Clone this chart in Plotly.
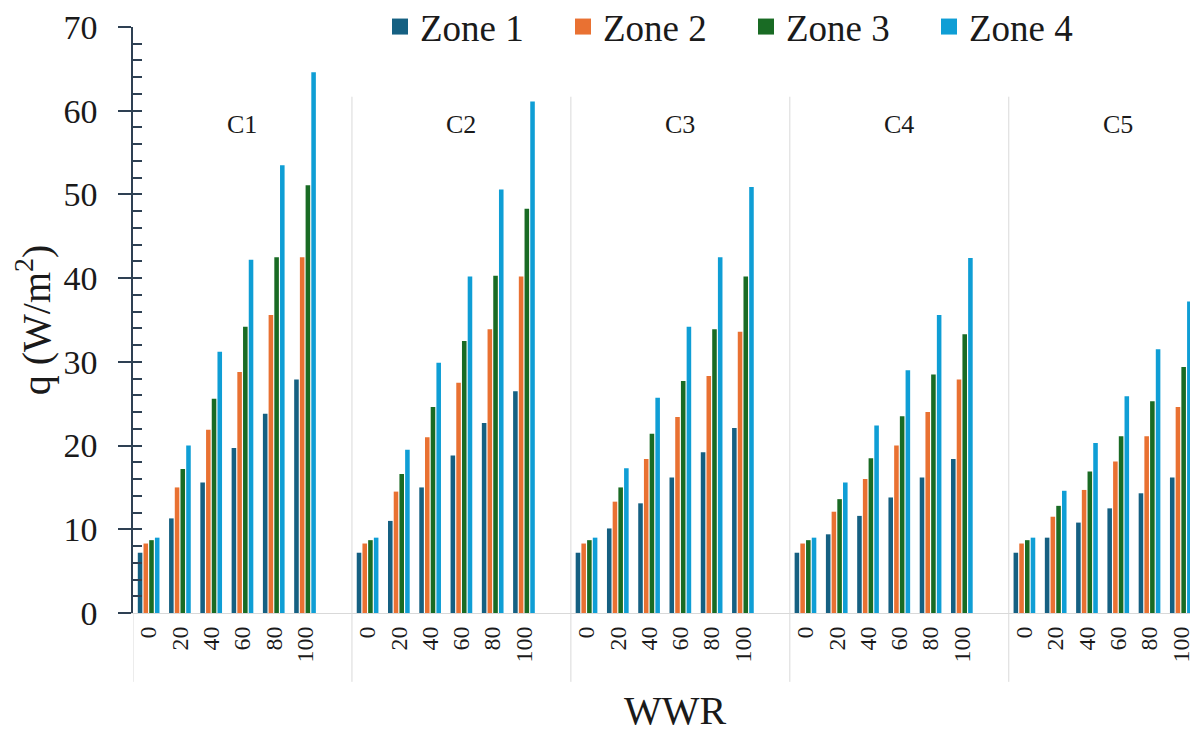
import plotly.graph_objects as go

# ---- data ----
wwr_labels = ["0", "20", "40", "60", "80", "100"]
cases = ["C1", "C2", "C3", "C4", "C5"]
zone_names = ["Zone 1", "Zone 2", "Zone 3", "Zone 4"]

# each list: one row per case (C1..C5), values for WWR 0..100
zone1 = [
    [7.2, 11.3, 15.6, 19.7, 23.8, 27.9],
    [7.2, 11.0, 15.0, 18.8, 22.7, 26.5],
    [7.2, 10.1, 13.1, 16.2, 19.2, 22.1],
    [7.2, 9.4, 11.6, 13.8, 16.2, 18.4],
    [7.2, 9.0, 10.8, 12.5, 14.3, 16.2],
]
zone2 = [
    [8.3, 15.0, 21.9, 28.8, 35.6, 42.5],
    [8.3, 14.5, 21.0, 27.5, 33.9, 40.2],
    [8.3, 13.3, 18.4, 23.4, 28.3, 33.6],
    [8.3, 12.1, 16.0, 20.0, 24.0, 27.9],
    [8.3, 11.5, 14.7, 18.1, 21.1, 24.6],
]
zone3 = [
    [8.7, 17.2, 25.6, 34.2, 42.5, 51.1],
    [8.7, 16.6, 24.6, 32.5, 40.3, 48.3],
    [8.7, 15.0, 21.4, 27.7, 33.9, 40.2],
    [8.7, 13.6, 18.5, 23.5, 28.5, 33.3],
    [8.7, 12.8, 16.9, 21.1, 25.3, 29.4],
]
zone4 = [
    [9.0, 20.0, 31.2, 42.2, 53.5, 64.6],
    [9.0, 19.5, 29.9, 40.2, 50.6, 61.1],
    [9.0, 17.3, 25.7, 34.2, 42.5, 50.9],
    [9.0, 15.6, 22.4, 29.0, 35.6, 42.4],
    [9.0, 14.6, 20.3, 25.9, 31.5, 37.2],
]
zone_colors = ["#156082", "#E97132", "#196B24", "#0F9ED5"]

FONT = "Liberation Serif, Times New Roman, serif"
SLOTS = 7  # 6 WWR clusters + one empty slot per case

xpos = [g * SLOTS + i for g in range(len(cases)) for i in range(len(wwr_labels))]
xtext = [w for _ in cases for w in wwr_labels]

fig = go.Figure()
for name, data, col in zip(zone_names, [zone1, zone2, zone3, zone4], zone_colors):
    yvals = [v for row in data for v in row]
    fig.add_trace(go.Bar(x=xpos, y=yvals, name=name, marker_color=col,
                         marker_line_width=0, showlegend=False, legendgroup=name))
    # legend entry with a larger square symbol
    fig.add_trace(go.Scatter(x=[None], y=[None], mode="markers", name=name,
                             marker=dict(symbol="square", size=16, color=col),
                             legendgroup=name, showlegend=True))

# inside minor ticks on an overlaid axis
fig.add_trace(go.Scatter(x=[None], y=[None], yaxis="y2", showlegend=False))

shapes = []
for g in range(1, len(cases)):
    shapes.append(dict(type="line", xref="x", yref="paper",
                       x0=g * SLOTS - 0.5, x1=g * SLOTS - 0.5, y0=-0.1175, y1=0.881,
                       line=dict(color="#D9D9D9", width=1)))
shapes.append(dict(type="line", xref="x", yref="paper", x0=-0.5, x1=-0.5,
                   y0=-0.1175, y1=0, line=dict(color="#D9D9D9", width=1)))

annotations = []
for g, c in enumerate(cases):
    annotations.append(dict(x=g * SLOTS + 3, y=58.4, xref="x", yref="y", text=c,
                            showarrow=False, font=dict(family=FONT, size=26, color="#1a1a1a")))
annotations.append(dict(x=(675 - 133) / 1065, y=-(710 - 613) / 586, xref="paper", yref="paper",
                        text="WWR", showarrow=False, yanchor="middle",
                        font=dict(family=FONT, size=40, color="#1a1a1a")))

# the page body adds an 8px offset; the figure is sized to fill the rest
fig.update_layout(
    width=1190, height=725,
    margin=dict(l=125, r=0, t=19, b=120, autoexpand=False),
    paper_bgcolor="white", plot_bgcolor="white",
    barmode="group", bargap=0.27, bargroupgap=0.2,
    font=dict(family=FONT, color="#1a1a1a"),
    shapes=shapes, annotations=annotations,
    legend=dict(orientation="h", x=(380 - 133) / 1065, xanchor="left",
                y=1.0, yanchor="middle",
                font=dict(family=FONT, size=37, color="#1a1a1a"),
                entrywidth=138, entrywidthmode="pixels", bgcolor="rgba(0,0,0,0)",
                itemclick=False),
    xaxis=dict(range=[-0.5, 33.55], tickmode="array", tickvals=xpos, ticktext=xtext,
               tickangle=-90, tickfont=dict(family=FONT, size=24, color="#1a1a1a"),
               ticklabelstandoff=3,
               showline=True, linecolor="#D9D9D9", linewidth=1, ticks="",
               showgrid=False, zeroline=False),
    yaxis=dict(range=[0, 70], dtick=10, tick0=0, ticks="outside", ticklen=13, tickwidth=1.5,
               tickcolor="#2E4053", showline=True, linecolor="#2E4053", linewidth=1.5,
               showgrid=False, zeroline=False,
               tickfont=dict(family=FONT, size=34, color="#1a1a1a"),
               ticklabelstandoff=14,
               title=dict(text="q (W/m<sup>2</sup>)", standoff=14,
                          font=dict(family=FONT, size=40, color="#1a1a1a"))),
    yaxis2=dict(range=[0, 70], overlaying="y", side="left", dtick=2, tick0=0,
                ticks="inside", ticklen=9, tickwidth=1.5, tickcolor="#2E4053",
                showticklabels=False, showline=False, showgrid=False, zeroline=False),
)

fig.write_html("out.html")
